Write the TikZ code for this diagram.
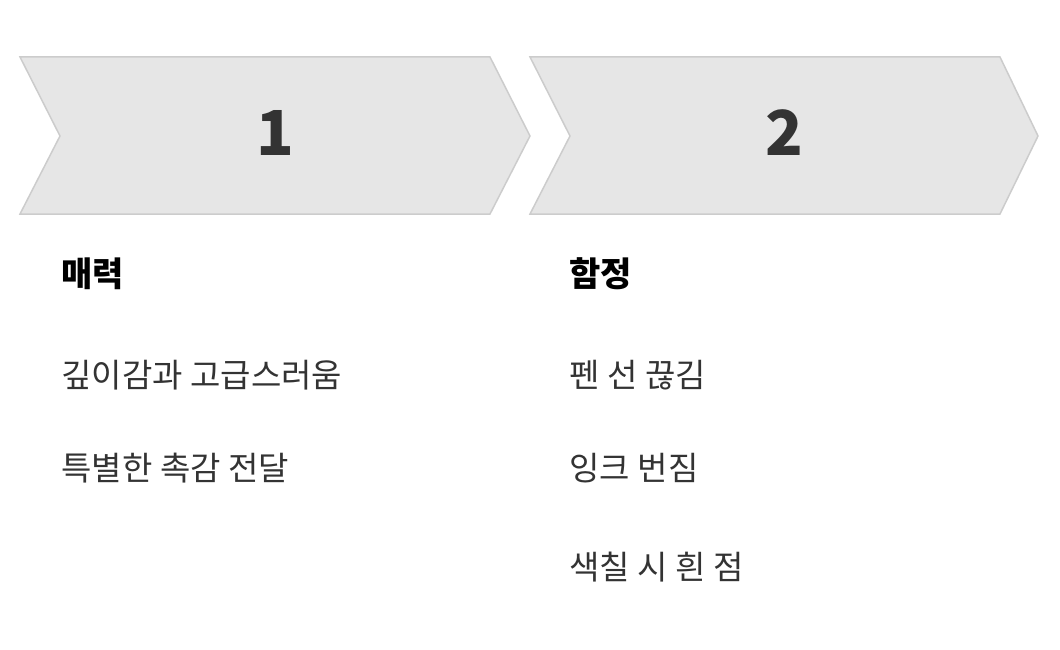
\documentclass[tikz,border=0pt]{standalone}
\usepackage{fontspec}
\setmainfont{Noto Sans CJK KR}
\definecolor{chev}{HTML}{E6E6E6}
\definecolor{chevline}{HTML}{CCCCCC}
\definecolor{txt}{HTML}{333333}
\begin{document}
\begin{tikzpicture}[x=1pt,y=-1pt,
  chevron/.style={fill=chev,draw=chevline,line width=1.5pt,line join=miter},
  num/.style={font=\fontsize{62}{62}\selectfont\bfseries,text=txt},
  head/.style={font=\fontsize{34}{34}\selectfont\bfseries,text=black,anchor=west},
  item/.style={font=\fontsize{33}{33}\selectfont,text=txt,anchor=west}]
\useasboundingbox (0,0) rectangle (1060,650);
\draw[chevron] (20,57) -- (490,57) -- (530,136) -- (490,214) -- (20,214) -- (60,136) -- cycle;
\draw[chevron] (530,57) -- (1000,57) -- (1038,136) -- (1000,214) -- (530,214) -- (570,136) -- cycle;
\node[num] (n1) at (275,133) {1};
\node[num] (n2) at (784,133) {2};
\node[head] (h1) at (58,274) {매력};
\node[item] (a1) at (58,375) {깊이감과 고급스러움};
\node[item] (a2) at (58,468) {특별한 촉감 전달};
\node[head] (h2) at (566,274) {함정};
\node[item] (b1) at (566,375) {펜 선 끊김};
\node[item] (b2) at (566,468) {잉크 번짐};
\node[item] (b3) at (566,567) {색칠 시 흰 점};
\end{tikzpicture}
\end{document}
